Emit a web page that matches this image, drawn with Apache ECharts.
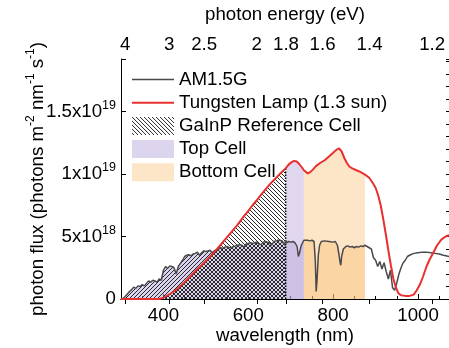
<!DOCTYPE html>
<html>
<head>
<meta charset="utf-8">
<script src="https://cdn.jsdelivr.net/npm/echarts@6/dist/echarts.min.js"></script>
<style>html,body{margin:0;padding:0;background:#fff;}#c{width:449px;height:348px;}</style>
</head>
<body>
<div id="c"></div>
<script>
// ---- data (flux in units of 1e18 photons m^-2 nm^-1 s^-1) ----
const amWl = [300,305,310,315,320,325,330,335,340,345,350,355,360,365,370,375,380,385,390,395,
  400,405,410,415,420,425,430,435,440,445,450,455,460,465,470,475,480,485,490,495,
  500,505,510,515,520,525,530,535,540,545,550,555,560,565,570,575,580,585,590,595,
  600,605,610,615,620,625,630,635,640,645,650,655,660,665,670,675,680,685,688,690,
  695,700,705,710,715,718,720,725,731,735,740,745,750,755,758,760,762,765,768,772,
  780,790,800,805,810,814,816,818,820,824,830,835,840,845,850,855,860,865,870,875,
  880,885,890,895,900,905,910,915,920,925,930,935,940,945,950,955,960,965,970,975,
  980,990,1000,1010,1020,1030,1040,1050,1060,1073];
const amFlux = [0,0.05,0.2,0.4,0.6,0.75,0.95,0.85,1.05,1.0,1.15,1.05,1.25,1.45,1.35,1.5,1.45,1.35,1.6,1.5,
  2.3,2.6,2.45,2.65,2.6,2.5,2.0,2.6,2.85,3.1,3.4,3.5,3.55,3.45,3.6,3.65,3.75,3.5,3.7,3.85,
  3.8,3.85,3.9,3.7,3.85,3.95,4.0,4.1,4.05,4.15,4.2,4.1,4.1,4.2,4.25,4.3,4.35,4.3,4.15,4.4,
  4.45,4.5,4.45,4.5,4.55,4.4,4.35,4.55,4.6,4.55,4.5,4.3,4.6,4.65,4.7,4.7,4.65,4.3,4.7,4.5,
  4.6,4.55,4.6,4.5,4.2,3.4,3.6,4.3,4.7,4.75,4.7,4.65,4.7,4.6,3.0,0.6,1.5,3.5,4.3,4.6,
  4.65,4.6,4.55,4.6,4.3,3.5,3.0,2.7,3.4,4.0,4.2,4.25,4.15,4.2,4.1,4.2,4.15,4.25,4.2,4.3,
  4.2,4.1,4.0,3.3,3.1,2.6,3.0,2.4,2.9,2.2,1.6,2.3,0.9,0.7,1.3,2.0,2.5,2.9,3.1,3.4,
  3.5,3.65,3.7,3.75,3.75,3.7,3.65,3.6,3.5,3.4];
const lampWl = [300,390,400,410,420,430,440,450,460,470,480,490,500,510,520,534,550,560,575,588,
  600,610,620,628,640,650,660,667,680,688,695,702,708,714,720,727,731,735,740,746,
  752,760,770,780,790,800,808,814,820,826,832,838,845,855,865,875,885,893,900,906,
  912,918,924,930,936,942,948,954,960,970,980,990,997,1005,1012,1020,1028,1036,1045,1055,
  1065,1073];
const lampFlux = [0,0,0.1,0.3,0.5,0.75,1.05,1.35,1.7,2.05,2.4,2.7,3.05,3.4,3.75,4.3,4.95,5.35,5.95,6.55,
  7.05,7.5,7.9,8.25,8.75,9.15,9.5,9.75,10.2,10.45,10.75,10.95,11.05,11.0,10.8,10.5,10.3,10.15,10.05,10.15,
  10.35,10.65,10.9,11.1,11.4,11.7,11.95,12.05,11.8,11.3,10.9,10.6,10.45,10.3,10.15,9.95,9.7,9.3,8.9,8.3,
  7.5,6.4,5.2,3.9,2.7,1.6,0.9,0.45,0.3,0.25,0.25,0.35,0.7,1.2,1.8,2.6,3.2,3.7,4.3,4.75,
  5.0,5.1];
const gainpRange = [300, 688];
const topRange = [688, 731];
const bottomRange = [731, 875];
const wavelengthTicks = [400, 600, 800, 1000];
const energyTicks = [4, 3, 2.5, 2, 1.8, 1.6, 1.4, 1.2];

// ---- helpers ----
const zip = (xs, ys) => xs.map((x, i) => [x, ys[i]]);
const amData = zip(amWl, amFlux);
const lampData = zip(lampWl, lampFlux);
const within = (d, r) => d.filter(p => p[0] >= r[0] && p[0] <= r[1]);

function hatch(dir, bg) {
  const s = 4, c = document.createElement('canvas');
  c.width = s; c.height = s;
  const g = c.getContext('2d');
  if (bg) { g.fillStyle = bg; g.fillRect(0, 0, s, s); }
  g.strokeStyle = '#2a2a2a'; g.lineWidth = 1;
  g.beginPath();
  if (dir === '\\') {
    g.moveTo(-1, -1); g.lineTo(s + 1, s + 1);
    g.moveTo(-1, s - 1); g.lineTo(1, s + 1);
    g.moveTo(s - 1, -1); g.lineTo(s + 1, 1);
  } else {
    g.moveTo(-1, s + 1); g.lineTo(s + 1, -1);
    g.moveTo(-1, 1); g.lineTo(1, -1);
    g.moveTo(s - 1, s + 1); g.lineTo(s + 1, s - 1);
  }
  g.stroke();
  return { image: c, repeat: 'repeat' };
}
const hatchBack = hatch('\\', null);
const hatchFwd = hatch('/', 'rgba(185,170,222,0.5)');
const legendHatch = hatch('\\', '#ffffff');

const lampAt = wl => lampData.find(p => p[0] === wl)[1];

function area(name, data, color) {
  return { name, type: 'line', data, symbol: 'none', silent: true,
    lineStyle: { width: 0, opacity: 0 }, areaStyle: { color, opacity: 1 }, z: 1 };
}

const fontFamily = 'Liberation Sans, Arial, sans-serif';
const FS = 18.7;
function sci(v) {
  if (v === 0) return '0';
  if (Math.abs(v % 5) > 1e-9) return '';
  const val = v * 1e18;
  const e = Math.floor(Math.log10(val) + 1e-9);
  const m = +(val / Math.pow(10, e)).toFixed(2);
  return m + 'x10{sup|' + e + '}';
}

const chart = echarts.init(document.getElementById('c'), null, { renderer: 'canvas' });
chart.setOption({
  animation: false,
  textStyle: { fontFamily },
  grid: { left: 121, right: 0, top: 59, bottom: 49, containLabel: false, outerBoundsMode: 'none' },
  legend: {
    orient: 'vertical', left: 127, top: 65, itemWidth: 42, itemHeight: 18, itemGap: 4.2,
    selectedMode: false,
    textStyle: { fontSize: FS, color: '#000', fontFamily, lineHeight: 18 },
    data: [
      { name: 'AM1.5G', icon: 'path://M0,0H42V1.5H0Z', itemStyle: { color: '#4a4a4a', borderWidth: 0 } },
      { name: 'Tungsten Lamp (1.3 sun)', icon: 'path://M0,0H42V2H0Z', itemStyle: { color: '#e8302f', borderWidth: 0 } },
      { name: 'GaInP Reference Cell', icon: 'rect', itemStyle: { color: legendHatch, borderWidth: 0 } },
      { name: 'Top Cell', icon: 'rect', itemStyle: { color: '#ddd5ee', borderWidth: 0 } },
      { name: 'Bottom Cell', icon: 'rect', itemStyle: { color: '#fde6c8', borderWidth: 0 } }
    ]
  },
  xAxis: [
    { type: 'value', position: 'bottom', min: 300, max: 1073,
      name: 'wavelength (nm)', nameLocation: 'middle', nameGap: 27, nameMoveOverlap: false,
      nameTextStyle: { fontSize: FS, color: '#000' },
      axisLine: { lineStyle: { color: '#000', width: 1 } },
      axisTick: { inside: true, length: 5, customValues: wavelengthTicks, lineStyle: { color: '#000' } },
      axisLabel: { fontSize: FS, color: '#000', margin: 7, customValues: wavelengthTicks, formatter: v => String(v) },
      splitLine: { show: false } },
    { type: 'value', position: 'top', min: 300, max: 1073,
      name: 'photon energy (eV)', nameLocation: 'middle', nameGap: 35,
      nameTextStyle: { fontSize: FS, color: '#000' },
      axisLine: { lineStyle: { color: '#000', width: 1 } },
      axisTick: { inside: true, length: 5, customValues: energyTicks.map(e => 1240 / e), lineStyle: { color: '#000' } },
      axisLabel: { fontSize: FS, color: '#000', margin: 5, customValues: energyTicks.map(e => 1240 / e),
        formatter: v => String(+(1240 / v).toFixed(1)) },
      splitLine: { show: false } },
    { type: 'value', position: 'bottom', min: 300, max: 1073, interval: 50,
      axisLine: { show: false },
      axisTick: { inside: true, length: 3, lineStyle: { color: '#000' } },
      axisLabel: { show: false }, splitLine: { show: false } }
  ],
  yAxis: [
    { type: 'value', min: 0, max: 19.2, interval: 5,
      name: 'photon flux (photons m{sup|-2} nm{sup|-1} s{sup|-1})', nameLocation: 'middle', nameGap: 71,
      nameMoveOverlap: false,
      nameTextStyle: { fontSize: FS, color: '#000', rich: { sup: { fontSize: 12, padding: [0, 0, 13, 0] } } },
      axisLine: { show: true, lineStyle: { color: '#000', width: 1 } },
      axisTick: { inside: true, length: 5, lineStyle: { color: '#000' } },
      axisLabel: { fontSize: FS, color: '#000', margin: 5, formatter: sci,
        rich: { sup: { fontSize: 12.5, padding: [0, 0, 12, 0] } } },
      splitLine: { show: false } },
    { type: 'value', min: 0, max: 19.2, interval: 1,
      axisLine: { show: false },
      axisTick: { inside: true, length: 3, lineStyle: { color: '#000' } },
      axisLabel: { show: false }, splitLine: { show: false } }
  ],
  series: [
    area('GaInP AM', within(amData, gainpRange), hatchFwd),
    area('GaInP Reference Cell', within(lampData, gainpRange), hatchBack),
    area('Top Cell', within(lampData, topRange), 'rgba(180,160,218,0.42)'),
    area('Top AM', within(amData, topRange), 'rgba(180,160,218,0.42)'),
    area('Bottom Cell', within(lampData, bottomRange), 'rgba(250,190,115,0.4)'),
    area('Bottom AM', within(amData, bottomRange), 'rgba(250,190,115,0.4)'),
    { name: 'edge', type: 'line', symbol: 'none', silent: true, z: 2,
      data: [[gainpRange[1], 0], [gainpRange[1], lampAt(gainpRange[1])]],
      lineStyle: { color: '#000', width: 1.5, type: 'dotted' } },
    { name: 'AM1.5G', type: 'line', data: amData, symbol: 'none', silent: true, z: 3,
      lineStyle: { color: '#4a4a4a', width: 1.5 } },
    { name: 'Tungsten Lamp (1.3 sun)', type: 'line', data: lampData, symbol: 'none', silent: true, z: 4,
      lineStyle: { color: '#e8302f', width: 2 } }
  ]
});
</script>
</body>
</html>
